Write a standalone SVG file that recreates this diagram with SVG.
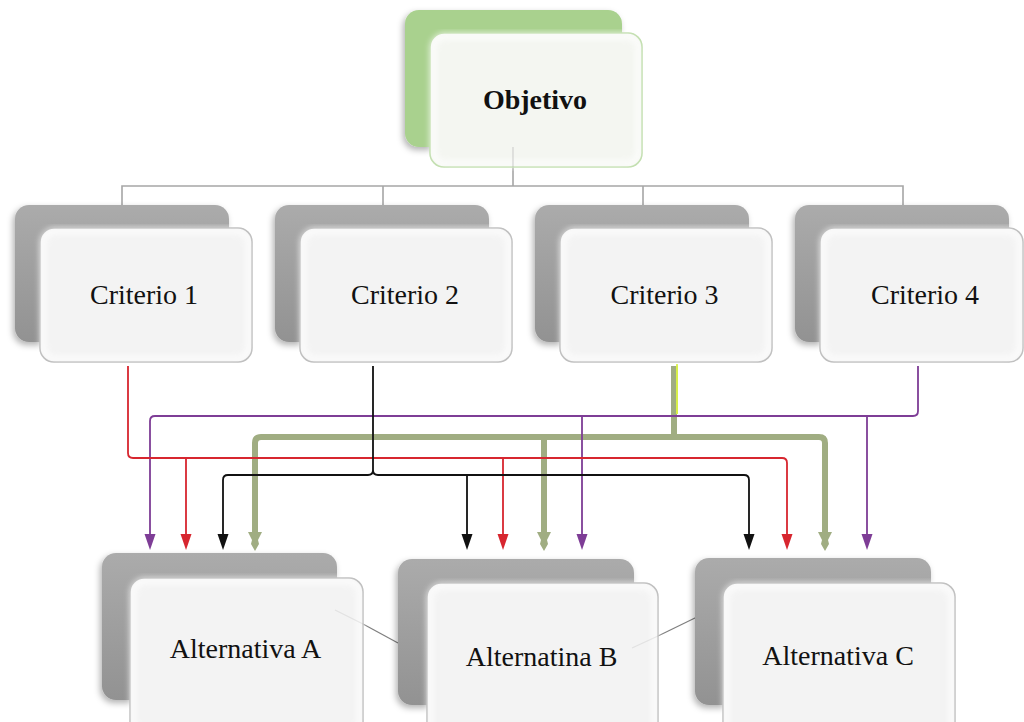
<svg xmlns="http://www.w3.org/2000/svg" width="1024" height="722" viewBox="0 0 1024 722">
  <defs>
    <linearGradient id="backGray" x1="0" y1="0" x2="0" y2="1">
      <stop offset="0" stop-color="#ababab"/>
      <stop offset="1" stop-color="#929292"/>
    </linearGradient>
    <filter id="shadow" x="-10%" y="-10%" width="120%" height="125%">
      <feDropShadow dx="-2" dy="3" stdDeviation="3" flood-color="#000" flood-opacity="0.3"/>
    </filter>
    <filter id="soft" x="-5%" y="-5%" width="110%" height="110%">
      <feGaussianBlur stdDeviation="3"/>
    </filter>
    <style>
      .back { fill: url(#backGray); filter: url(#shadow); }
      .front { fill: #f3f3f3; stroke: #a3a3a3; stroke-width: 1.5; }
      .glow { fill: none; stroke: #ffffff; stroke-width: 6; opacity: 0.8; filter: url(#soft); }
      .lbl { font-family: "Liberation Serif", "Times New Roman", serif; font-size: 28px; fill: #111; text-anchor: middle; }
      .tree { fill: none; stroke: #a6a6a6; stroke-width: 1.6; }
      .link { fill: none; stroke: #7f7f7f; stroke-width: 1.2; }
      .faint { fill: none; stroke: #7f7f7f; stroke-width: 1.2; opacity: 0.15; }
      .c-red { fill: none; stroke: #d7262f; stroke-width: 1.8; }
      .c-pur { fill: none; stroke: #7e3d96; stroke-width: 1.8; }
      .c-blk { fill: none; stroke: #111; stroke-width: 1.8; }
      .c-grn { fill: none; stroke: #a0ad82; stroke-width: 6; }
    </style>
  </defs>

  <rect width="1024" height="722" fill="#ffffff"/>

  <g id="connectors">
    <!-- hierarchy lines from Objetivo to the criteria -->
    <path class="tree" d="M513 167 V186 M122 205 V186 H903 V205 M383 186 V205 M643 186 V205"/>
    <!-- links between alternatives -->
    <line class="link" x1="363" y1="624" x2="398" y2="643"/>
    <line class="link" x1="658" y1="636" x2="697" y2="617"/>

    <!-- Criterio 3 (thick olive) -->
    <path class="c-grn" d="M674 366 V437 M677 437 H261 Q255 437 255 443 V538 M671 437 H819 Q825 437 825 443 V538 M544 437 V538"/>
    <path d="M677 364 V414" stroke="#d8f048" stroke-width="2" fill="none"/>
    <g fill="#a0ad82">
      <path d="M248 532 H262 L258 540 L259 544 L255 551 L251 544 L252 540 Z"/>
      <path d="M537 532 H551 L547 540 L548 544 L544 551 L540 544 L541 540 Z"/>
      <path d="M818 532 H832 L828 540 L829 544 L825 551 L821 544 L822 540 Z"/>
    </g>

    <!-- Criterio 4 (purple) -->
    <path class="c-pur" d="M918 366 V411 Q918 416 913 416 H155 Q150 416 150 421 V536 M582 416 V536 M867 416 V536"/>
    <g fill="#7e3d96">
      <path d="M144.5 534 H155.5 L150 550 Z"/>
      <path d="M576.5 534 H587.5 L582 550 Z"/>
      <path d="M861.5 534 H872.5 L867 550 Z"/>
    </g>

    <!-- Criterio 1 (red) -->
    <path class="c-red" d="M128 366 V453 Q128 458 133 458 H782 Q787 458 787 463 V536 M186 458 V536 M503 458 V536"/>
    <g fill="#d7262f">
      <path d="M180.5 534 H191.5 L186 550 Z"/>
      <path d="M497.5 534 H508.5 L503 550 Z"/>
      <path d="M781.5 534 H792.5 L787 550 Z"/>
    </g>

    <!-- Criterio 2 (black) -->
    <path class="c-blk" d="M373 366 V470 Q373 475 368 475 H228 Q223 475 223 480 V536 M373 470 Q373 475 378 475 H744 Q749 475 749 480 V536 M467 475 V536"/>
    <g fill="#111">
      <path d="M217.5 534 H228.5 L223 550 Z"/>
      <path d="M461.5 534 H472.5 L467 550 Z"/>
      <path d="M743.5 534 H754.5 L749 550 Z"/>
    </g>
  </g>

  <g id="objetivo">
    <rect x="405" y="10" width="217" height="137" rx="14" fill="#a9d18e" filter="url(#shadow)"/>
    <rect x="430" y="33" width="212" height="134" rx="14" fill="#f4f6f1" stroke="#a9d18e" stroke-width="1.6"/>
    <rect class="glow" x="433" y="36" width="206" height="128" rx="12"/>
    <path class="tree" d="M513 147 V167" opacity="0.35"/>
    <text class="lbl" x="535" y="109" font-weight="bold">Objetivo</text>
  </g>

  <g id="criterio1">
    <rect class="back" x="15" y="205" width="214" height="137" rx="14"/>
    <rect class="front" x="40" y="228" width="212" height="134" rx="14"/>
    <rect class="glow" x="43" y="231" width="206" height="128" rx="12"/>
    <text class="lbl" x="144" y="304">Criterio 1</text>
  </g>
  <g id="criterio2">
    <rect class="back" x="275" y="205" width="214" height="137" rx="14"/>
    <rect class="front" x="300" y="228" width="212" height="134" rx="14"/>
    <rect class="glow" x="303" y="231" width="206" height="128" rx="12"/>
    <text class="lbl" x="405" y="304">Criterio 2</text>
  </g>
  <g id="criterio3">
    <rect class="back" x="535" y="205" width="214" height="137" rx="14"/>
    <rect class="front" x="560" y="228" width="212" height="134" rx="14"/>
    <rect class="glow" x="563" y="231" width="206" height="128" rx="12"/>
    <text class="lbl" x="664.5" y="304">Criterio 3</text>
  </g>
  <g id="criterio4">
    <rect class="back" x="795" y="205" width="214" height="137" rx="14"/>
    <rect class="front" x="820" y="228" width="203" height="134" rx="14"/>
    <rect class="glow" x="823" y="231" width="197" height="128" rx="12"/>
    <text class="lbl" x="925" y="304">Criterio 4</text>
  </g>

  <g id="alternativaA">
    <rect class="back" x="102" y="553" width="235" height="147" rx="14"/>
    <rect class="front" x="130" y="578" width="233" height="160" rx="14"/>
    <rect class="glow" x="133" y="581" width="227" height="154" rx="12"/>
    <line class="faint" x1="335" y1="610" x2="363" y2="624"/>
    <text class="lbl" x="245.5" y="658">Alternativa A</text>
  </g>
  <g id="alternativaB">
    <rect class="back" x="398" y="559" width="236" height="146" rx="14"/>
    <rect class="front" x="427" y="583" width="231" height="160" rx="14"/>
    <rect class="glow" x="430" y="586" width="225" height="154" rx="12"/>
    <line class="faint" x1="632" y1="648" x2="658" y2="636"/>
    <text class="lbl" x="541.5" y="666">Alternatina B</text>
  </g>
  <g id="alternativaC">
    <rect class="back" x="695" y="558" width="236" height="147" rx="14"/>
    <rect class="front" x="723" y="583" width="232" height="160" rx="14"/>
    <rect class="glow" x="726" y="586" width="226" height="154" rx="12"/>
    <text class="lbl" x="838" y="665">Alternativa C</text>
  </g>
</svg>
